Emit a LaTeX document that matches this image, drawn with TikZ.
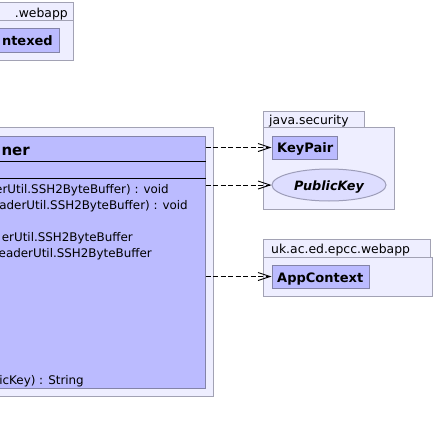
\documentclass[tikz,border=0pt]{standalone}
\usepackage{fontspec}
\setmainfont{DejaVu Sans}
\usepackage{tikz}
\usetikzlibrary{positioning,arrows.meta,shapes.geometric}
\definecolor{pkgFill}{HTML}{EEEEFF}
\definecolor{pkgLine}{HTML}{A2A2B4}
\definecolor{classFill}{HTML}{BBBBFF}
\definecolor{classLine}{HTML}{8484A8}
\definecolor{ifaceFill}{HTML}{DDDDFF}

\begin{document}
\begin{tikzpicture}[
    x=1pt, y=-1pt,
    pkgBox/.style={rectangle, draw=pkgLine, fill=pkgFill, line width=1pt, inner sep=0pt},
    classBox/.style={rectangle, draw=classLine, fill=classFill, line width=1pt, inner sep=0pt},
    ifaceBox/.style={ellipse, draw=classLine!80, fill=ifaceFill, line width=1pt, inner sep=0pt},
    pkgLabel/.style={font=\fontsize{12.4}{15}\selectfont, inner sep=0pt},
    className/.style={font=\fontsize{13}{16}\selectfont\bfseries, inner sep=0pt},
    memberText/.style={font=\fontsize{11.9}{15}\selectfont, inner sep=0pt},
    sepLine/.style={draw=black, line width=1pt},
    depArrow/.style={-{Straight Barb[length=12pt, width=8pt]}, draw=black, line width=0.9pt, dash pattern=on 5pt off 2.5pt}
]
    \useasboundingbox (0,0) rectangle (434,434);
    \clip (0,0) rectangle (434,434);

    % package at the top left
    \node[pkgBox, minimum width=200pt, minimum height=18pt] (webTab) at (-27,11) {};
    \node[pkgBox, minimum width=200pt, minimum height=40pt] (webPkg) at (-27,40) {};
    \node[classBox, minimum width=160pt, minimum height=24pt] (textClass) at (-21,40) {};
    \node[pkgLabel, anchor=base east] (webName) at (68,17) {.webapp};
    \node[className, anchor=base east] (textName) at (53,45) {ntexed};

    % package holding the signer class
    \node[pkgBox, minimum width=430pt, minimum height=269pt] (signPkg) at (-2,261.5) {};
    \node[classBox, minimum width=410pt, minimum height=252pt] (signer) at (0,262) {};
    \node[className, font=\fontsize{15}{18}\selectfont\bfseries, anchor=base east] (signName) at (30,155) {ner};
    \draw[sepLine] ([yshift=-26pt]signer.north west) -- ([yshift=-26pt]signer.north east);
    \draw[sepLine] ([yshift=-43pt]signer.north west) -- ([yshift=-43pt]signer.north east);
    \node[memberText, anchor=base east] (opA) at (169,193) {erUtil.SSH2ByteBuffer) : void};
    \node[memberText, anchor=base east] (opB) at (188,209) {aderUtil.SSH2ByteBuffer) : void};
    \node[memberText, anchor=base east] (opC) at (133,241) {erUtil.SSH2ByteBuffer};
    \node[memberText, anchor=base east] (opD) at (152,257) {eaderUtil.SSH2ByteBuffer};
    \node[memberText, anchor=base east] (opE) at (84,384) {icKey) : String};

    % java.security
    \node[pkgBox, minimum width=101pt, minimum height=16pt] (secTab) at (313.5,119) {};
    \node[pkgBox, minimum width=131pt, minimum height=82pt] (secPkg) at (328.5,168) {};
    \node[pkgLabel, anchor=base west] (secName) at (269,124) {java.security};
    \node[classBox, minimum width=65pt, minimum height=23pt] (keyPair) at (304.5,147.5) {};
    \node[className, anchor=base west] at (277,152) {KeyPair};
    \node[ifaceBox, minimum width=114pt, minimum height=32pt] (pubKey) at (329,185) {};
    \node[className, font=\fontsize{12.8}{16}\selectfont\bfseries\itshape, anchor=base] at (329,190) {PublicKey};

    % uk.ac.ed.epcc.webapp
    \node[pkgBox, minimum width=167pt, minimum height=18pt] (appTab) at (346.5,248) {};
    \node[pkgBox, minimum width=169pt, minimum height=39pt] (appPkg) at (347.5,276.5) {};
    \node[pkgLabel, anchor=base west] (appName) at (271,253) {uk.ac.ed.epcc.webapp};
    \node[classBox, minimum width=97pt, minimum height=23pt] (appCtx) at (320.5,276.5) {};
    \node[className, anchor=base west] at (277,282) {AppContext};

    % dependencies
    \draw[depArrow] (signer.east |- keyPair.west) -- (keyPair.west);
    \draw[depArrow] (signer.east |- pubKey.west) -- (pubKey.west);
    \draw[depArrow] (signer.east |- appCtx.west) -- (appCtx.west);
\end{tikzpicture}
\end{document}
